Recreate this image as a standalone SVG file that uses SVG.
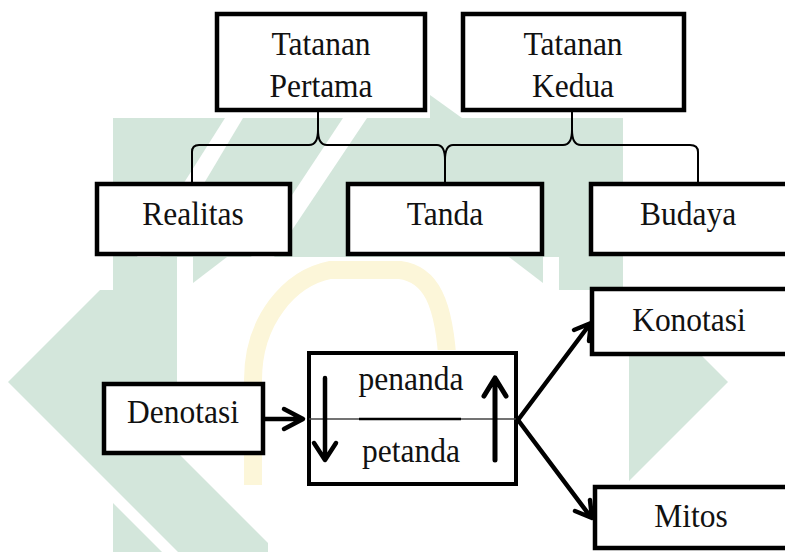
<svg xmlns="http://www.w3.org/2000/svg" width="785" height="552" viewBox="0 0 785 552">
<style>
.box{fill:#fff;stroke:#000;stroke-width:4.5}
.t{font-family:"Liberation Serif","Times New Roman",serif;font-size:31.5px;fill:#111;text-anchor:middle}
.br{fill:none;stroke:#000;stroke-width:2}
.ar{fill:none;stroke:#000;stroke-width:4.5;stroke-linecap:round;stroke-linejoin:round}
.wm{fill:#d3e6db}
.wy{fill:none;stroke:#fcf6d9;stroke-width:18}
.wh{fill:#fff}
</style>
<rect width="785" height="552" fill="#fff"/>
<g id="watermark">
  <rect class="wm" x="113" y="118" width="510" height="139"/>
  <polygon class="wm" points="430,95 462,118 430,118"/>
  <polygon class="wm" points="113,257 177,257 177,452 277,552 178,552 8,382 100,290 113,290"/>
  <polygon class="wm" points="193,257 227,257 193,283"/>
  <polygon class="wm" points="113,503 162,552 113,552"/>
  <polygon class="wm" points="623,257 559,257 559,452 459,552 558,552 728,382 636,290 623,290"/>
  <polygon class="wm" points="543,257 509,257 543,283"/>
  <polygon class="wh" points="225,118 243,118 160,257 137,257"/>
  <polygon class="wh" points="343,118 367,118 274,257 251,257"/>
  <path class="wy" d="M253,485 L253,380 C253,320 290,278 330,270 L400,270 C430,274 445,300 448,370"/>
  <rect class="wh" x="268" y="350" width="192" height="202"/>
  <rect class="wh" x="460" y="290" width="169" height="262"/>
  <rect class="wh" x="460" y="257" width="49" height="33"/>
</g>
<g id="connectors">
  <path class="br" d="M318,112 V130 M318,130 Q318,145 309,145 H199 Q192,145 192,152 V182 M318,130 Q318,145 327,145 H437 Q445,145 445,160 V182"/>
  <path class="br" d="M572,112 V130 M572,130 Q572,145 563,145 H453 Q445,145 445,160 M572,130 Q572,145 581,145 H690 Q698,145 698,152 V182"/>
</g>
<g id="n1"><rect class="box" x="217" y="14" width="208" height="96"/>
  <text class="t" transform="translate(321 55) scale(1 1.1)">Tatanan</text>
  <text class="t" transform="translate(321 97) scale(1 1.1)">Pertama</text></g>
<g id="n2"><rect class="box" x="463" y="14" width="221" height="96"/>
  <text class="t" transform="translate(573 55) scale(1 1.1)">Tatanan</text>
  <text class="t" transform="translate(573 97) scale(1 1.1)">Kedua</text></g>
<g id="n3"><rect class="box" x="97" y="184" width="193" height="70"/>
  <text class="t" transform="translate(193 225) scale(1 1.1)">Realitas</text></g>
<g id="n4"><rect class="box" x="348" y="184" width="194" height="70"/>
  <text class="t" transform="translate(445 225) scale(1 1.1)">Tanda</text></g>
<g id="n5"><rect class="box" x="591" y="184" width="210" height="70"/>
  <text class="t" transform="translate(688 225) scale(1 1.1)">Budaya</text></g>
<g id="n6"><rect class="box" x="592" y="289" width="210" height="65"/>
  <text class="t" transform="translate(689 331) scale(1 1.1)">Konotasi</text></g>
<g id="n7"><rect class="box" x="595" y="487" width="210" height="61"/>
  <text class="t" transform="translate(691 527) scale(1 1.1)">Mitos</text></g>
<g id="n8"><rect class="box" x="104" y="384" width="159" height="69"/>
  <text class="t" transform="translate(183 423) scale(1 1.1)">Denotasi</text></g>
<g id="n9"><rect class="box" x="309" y="353" width="207" height="131" style="stroke-width:4"/>
  <path d="M309,419 H516" stroke="#444" stroke-width="1.5"/>
  <path d="M359,419 H461" stroke="#000" stroke-width="2.5"/>
  <text class="t" transform="translate(411 390) scale(1 1.1)">penanda</text>
  <text class="t" transform="translate(411 462) scale(1 1.1)">petanda</text>
  <path class="ar" d="M325,378 V458 M314,443 L325,460 L336,443"/>
  <path class="ar" d="M495,460 V380 M484,396 L495,378 L506,396" style="stroke-width:5"/></g>
<g id="arrows">
  <path class="ar" d="M265,419 H302 M284,409 L303,419 L284,429"/>
  <path class="ar" d="M518,420 L590,324 M574,330 L591,323 L589,341"/>
  <path class="ar" d="M518,420 L590,516 M590,500 L592,518 L575,511"/>
</g>
</svg>
